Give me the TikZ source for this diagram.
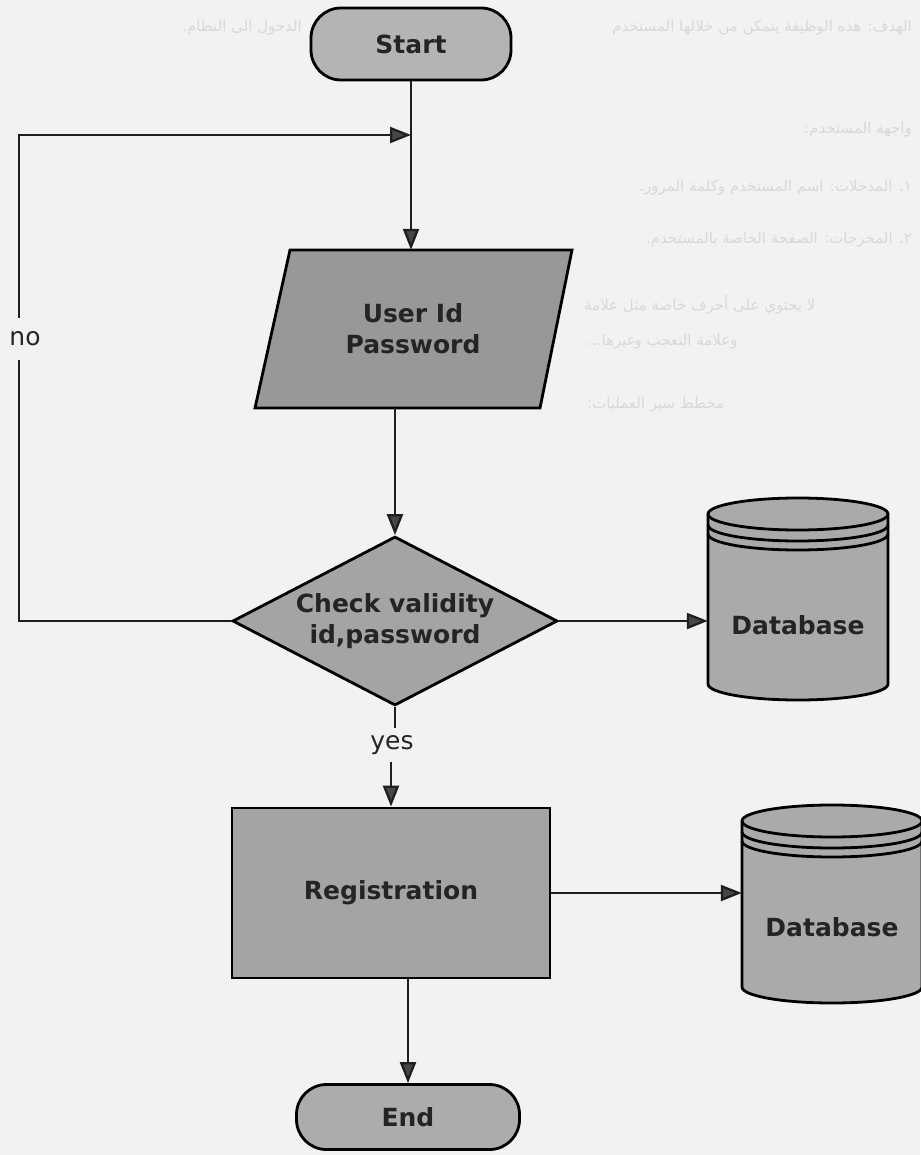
\documentclass[tikz,border=0pt]{standalone}
\usepackage{fontspec}
\setmainfont{DejaVu Sans}
\newfontfamily\arabicfont[Script=Arabic]{DejaVu Sans}
\TeXXeTstate=1
\usetikzlibrary{arrows.meta,shapes.geometric,calc}
\pgfdeclarelayer{paper}
\pgfdeclarelayer{background}
\pgfsetlayers{paper,background,main}
\definecolor{bg}{RGB}{242,242,241}
\definecolor{shapefill}{RGB}{164,164,164}
\definecolor{startfill}{RGB}{180,180,180}
\definecolor{parafill}{RGB}{152,152,152}
\definecolor{dbfill}{RGB}{170,170,170}
\definecolor{endfill}{RGB}{172,172,172}
\definecolor{txt}{RGB}{36,36,36}
\definecolor{ghost}{RGB}{216,216,216}
\newcommand\lblfont{\fontsize{25}{31}\selectfont\bfseries}
\newcommand\smfont{\fontsize{25}{28}\selectfont}
\newcommand\dbcyl[3]{%
  \begin{scope}[shift={(#1.center)}]
    \draw[outline,fill=dbfill] (-90,#2) -- (-90,#3)
      arc[start angle=180,end angle=360,x radius=90pt,y radius=16pt]
      -- (90,#2)
      arc[start angle=0,end angle=180,x radius=90pt,y radius=16pt] -- cycle;
    \draw[outline] (-90,#2) arc[start angle=180,end angle=360,x radius=90pt,y radius=16pt];
    \draw[outline] (-90,{#2+11}) arc[start angle=180,end angle=360,x radius=90pt,y radius=16pt];
    \draw[outline] (-90,{#2+20}) arc[start angle=180,end angle=360,x radius=90pt,y radius=16pt];
  \end{scope}}
\begin{document}
\begin{tikzpicture}[x=1pt,y=-1pt,
  outline/.style={draw=black,line width=2.8pt},
  lbl/.style={font=\lblfont,text=txt,align=center},
  term/.style={outline,lbl,rounded corners=30pt,fill=startfill,minimum width=200pt,minimum height=72pt,inner sep=0pt},
  procbox/.style={outline,lbl,fill=shapefill,minimum width=318pt,minimum height=170pt,inner sep=0pt},
  decision/.style={outline,lbl,diamond,fill=shapefill,aspect=1.92,minimum width=325pt,minimum height=169pt,inner sep=0pt},
  plain/.style={lbl,inner sep=0pt},
  edgelbl/.style={font=\smfont,text=txt,inner sep=0pt},
  conn/.style={draw=black!88,line width=2.3pt},
  arr/.style={conn,-{Triangle[length=21pt,width=16pt,fill=black!72]}},
  ar/.style={font=\arabicfont\fontsize{15}{18}\selectfont,text=ghost,inner sep=0pt}
]
\useasboundingbox (0,0) rectangle (920,1155);

% nodes
\node[term] (start) at (411,44) {Start};
\node[plain,minimum width=250pt,minimum height=158pt] (inp) at (413,329) {User Id\\Password};
\node[decision] (chk) at (395,621) {Check validity\\id,password};
\node[plain,minimum width=180pt,minimum height=150pt] (db1) at (798,625) {Database};
\node[edgelbl,minimum height=34pt] (yes) at (392,745) {yes};
\node[procbox] (reg) at (391,893) {Registration};
\node[plain,minimum width=180pt,minimum height=150pt] (db2) at (832,927) {Database};
\node[term,minimum width=223pt,minimum height=65pt,fill=endfill] (end) at (408,1117) {End};
\node[edgelbl,minimum height=42pt] (no) at (25,339) {no};
\coordinate (fbk) at (19,135);

% paper and faint page text
\begin{pgfonlayer}{paper}
\fill[bg] (0,0) rectangle (920,1155);
\node[ar,anchor=east] (ar1) at (912,28) {\beginR الهدف: هذه الوظيفة يتمكن من خلالها المستخدم\endR};
\node[ar,anchor=east] (ar1b) at (302,28) {\beginR الدخول الى النظام.\endR};
\node[ar,anchor=east] (ar2) at (912,130) {\beginR واجهة المستخدم:\endR};
\node[ar,anchor=east] (ar3) at (912,188) {\beginR ١. المدخلات: اسم المستخدم وكلمة المرور.\endR};
\node[ar,anchor=east] (ar4) at (912,240) {\beginR ٢. المخرجات: الصفحة الخاصة بالمستخدم.\endR};
\node[ar,anchor=west] (ar5) at (584,305) {\beginR لا يحتوي على أحرف خاصة مثل علامة\endR};
\node[ar,anchor=west] (ar6) at (587,342) {\beginR وعلامة التعجب وغيرها...\endR};
\node[ar,anchor=west] (ar7) at (587,405) {\beginR مخطط سير العمليات:\endR};
\end{pgfonlayer}

% drawn shapes behind text
\begin{pgfonlayer}{background}
\begin{scope}[shift={(inp.center)}]
  \draw[outline,fill=parafill] (-123,-79) -- (159,-79) -- (127,79) -- (-158,79) -- cycle;
\end{scope}
\dbcyl{db1}{-111}{59}
\dbcyl{db2}{-106}{60}
\end{pgfonlayer}

% connectors
\draw[arr] (start.south) -- (start.south |- inp.north);
\draw[arr] (inp.south -| chk.north) -- (chk.north);
\draw[arr] (chk.east) -- (chk.east -| db1.west);
\draw[conn] (chk.south) -- (chk.south |- yes.north);
\draw[arr] (yes.south -| reg.north) -- (reg.north);
\draw[arr] (reg.east) -- (reg.east -| db2.west);
\draw[arr] (reg.south -| end.north) -- (end.north);
\draw[conn] (chk.west) -- (chk.west -| fbk) -- (fbk |- no.south);
\draw[arr] (fbk |- no.north) -- (fbk) -- (fbk -| start.south);
\end{tikzpicture}
\end{document}
